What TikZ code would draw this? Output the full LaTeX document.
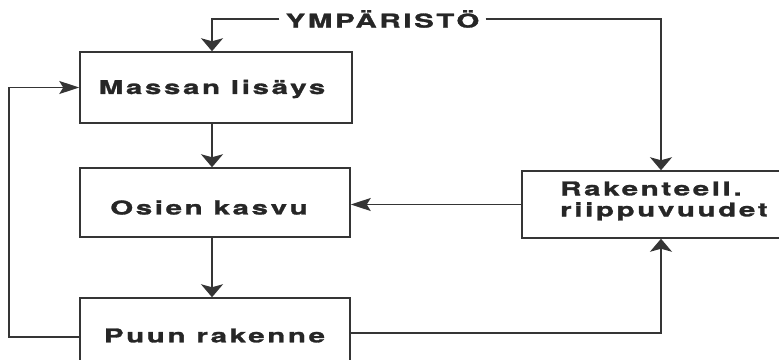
\documentclass[tikz,border=0pt]{standalone}
\usepackage{fontspec}
\newfontfamily\diafont[FakeStretch=1.55,LetterSpace=14,FakeBold=1.5]{TeX Gyre Heros}
\usetikzlibrary{arrows.meta}
\definecolor{linecol}{HTML}{353535}
\definecolor{txtcol}{HTML}{262626}
\begin{document}
\begin{tikzpicture}[x=1pt,y=-1pt,
  conn/.style={draw=linecol, line width=1.3pt},
  varr/.style={-{Stealth[length=13pt,width=22pt,inset=3pt]}},
  harr/.style={-{Stealth[length=20pt,width=13pt,inset=4pt]}},
  stage/.style={draw=linecol, line width=1.5pt, inner sep=0pt},
  lbl/.style={font=\diafont\bfseries\fontsize{19}{23}\selectfont, text=txtcol, inner sep=0pt}]
\useasboundingbox (0,0) rectangle (779,359);
\clip (0,0) rectangle (779,359);

% process boxes
\node[stage, minimum width=272pt, minimum height=71pt] (massan) at (216,87.5) {};
\node[stage, minimum width=270pt, minimum height=69pt] (osien) at (215,202.5) {};
\node[stage, minimum width=270pt, minimum height=76pt] (puun) at (215,336) {};
\node[stage, minimum width=278pt, minimum height=67pt] (rak) at (661,204.5) {};

% box texts
\node[lbl] (massantxt) at (212,89) {Massan lisäys};
\node[lbl] (osientxt) at (209,207.5) {Osien kasvu};
\node[lbl] (puuntxt) at (214.5,335.5) {Puun rakenne};
\node[lbl, align=left, anchor=west] (raktxt) at (560,201) {Rakenteell.\\[-2pt]riippuvuudet};

% environment label on the top line
\node[lbl, inner xsep=6pt, inner ysep=2pt] (ymp) at (382.5,19) {YMPÄRISTÖ};

% helper coordinates for the connector routes
\coordinate (colL) at (212,0);
\coordinate (fbL) at (9,337);
\coordinate (fbR) at (0,333);

% connectors
\draw[conn, varr] (ymp.west) -| (massan.north -| colL);
\draw[conn, varr] (ymp.east) -| (rak.north);
\draw[conn, varr] (massan.south -| colL) -- (osien.north -| colL);
\draw[conn, varr] (osien.south -| colL) -- (puun.north -| colL);
\draw[conn, harr] (rak.west) -- (osien.east |- rak.west);
\draw[conn, harr] (puun.west |- fbL) -- (fbL) |- (massan.west);
\draw[conn, varr] (puun.east |- fbR) -| (rak.south);
\end{tikzpicture}
\end{document}
